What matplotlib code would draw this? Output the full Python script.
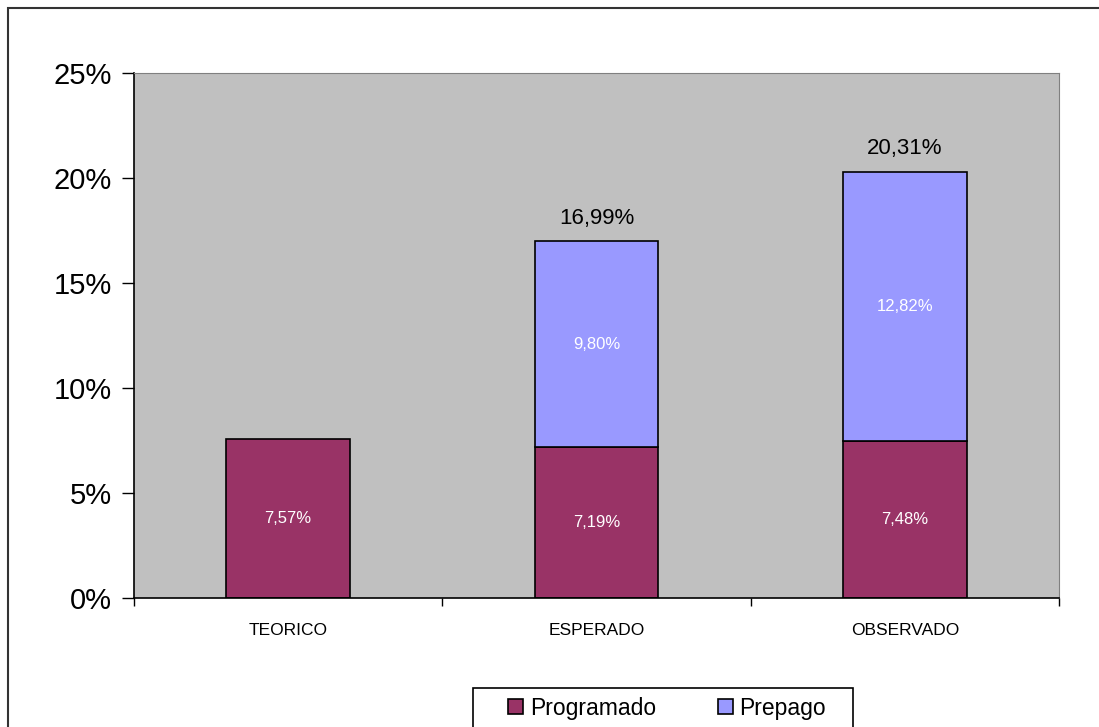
import matplotlib.pyplot as plt
from matplotlib.patches import Rectangle, Patch
from matplotlib.ticker import FuncFormatter

plt.rcParams['font.family'] = ['Liberation Sans', 'DejaVu Sans']

categorias = ['TEORICO', 'ESPERADO', 'OBSERVADO']
programado = [7.57, 7.19, 7.48]
prepago = [0.0, 9.80, 12.82]
totales = [None, '16,99%', '20,31%']

col_prog = '#993366'
col_prep = '#9999FF'

fig = plt.figure(figsize=(10.99, 7.27), dpi=100)
W, H = 1099, 727
ax = fig.add_axes([134 / W, 1 - 598 / H, (1059 - 134) / W, (598 - 73) / H])
ax.set_facecolor('#C0C0C0')

# marco exterior del grafico (se corta por la derecha y abajo)
fig.patches.append(Rectangle((8 / W, -0.05), 1.2, 1 - 8 / H + 0.05,
                             transform=fig.transFigure, fill=False,
                             edgecolor='#333333', linewidth=1.5))

x = list(range(len(categorias)))
ancho = 0.4
ax.bar(x, programado, ancho, color=col_prog, edgecolor='black', linewidth=1.2)
# solo se dibuja prepago donde hay valor
xp = [i for i in x if prepago[i] > 0]
ax.bar(xp, [prepago[i] for i in xp], ancho, bottom=[programado[i] for i in xp],
       color=col_prep, edgecolor='black', linewidth=1.2)

for i in x:
    ax.text(i, programado[i] / 2, f'{programado[i]:.2f}%'.replace('.', ','),
            ha='center', va='center', color='white', fontsize=12)
    if prepago[i] > 0:
        ax.text(i, programado[i] + prepago[i] / 2, f'{prepago[i]:.2f}%'.replace('.', ','),
                ha='center', va='center', color='white', fontsize=12)
    if totales[i]:
        ax.text(i, programado[i] + prepago[i] + 0.6, totales[i],
                ha='center', va='bottom', color='black', fontsize=16)

ax.set_xlim(-0.5, 2.5)
ax.set_ylim(0, 25)
ax.set_yticks([0, 5, 10, 15, 20, 25])
ax.yaxis.set_major_formatter(FuncFormatter(lambda v, p: f'{v:.0f}%'))
ax.tick_params(axis='y', labelsize=21, length=9, width=1, pad=7)

ax.set_xticks(x)
ax.set_xticklabels(categorias, fontsize=12.5)
ax.set_xticks([-0.5, 0.5, 1.5, 2.5], minor=True)
ax.tick_params(axis='x', which='major', length=0, pad=18)
ax.tick_params(axis='x', which='minor', length=6, width=1)

for lado in ['top', 'right']:
    ax.spines[lado].set_color('#808080')
for lado in ['left', 'bottom']:
    ax.spines[lado].set_color('black')
    ax.spines[lado].set_linewidth(1.2)

# caja de la leyenda (cortada abajo como en el original)
fig.patches.append(Rectangle((473 / W, -0.05), (853 - 473) / W, 1 - 688 / H + 0.05,
                             transform=fig.transFigure, fill=False,
                             edgecolor='black', linewidth=1.2))
handles = [Patch(facecolor=col_prog, edgecolor='black', linewidth=1.2, label='Programado'),
           Patch(facecolor=col_prep, edgecolor='black', linewidth=1.2, label='Prepago')]
fig.legend(handles=handles, loc='center left', ncol=2,
           bbox_to_anchor=(508 / W, 1 - 708 / H), fontsize=16.5,
           frameon=False, handlelength=0.65, handleheight=0.65,
           columnspacing=2.7, handletextpad=0.3, borderpad=0, borderaxespad=0)

fig.savefig('out.png', dpi=100)
